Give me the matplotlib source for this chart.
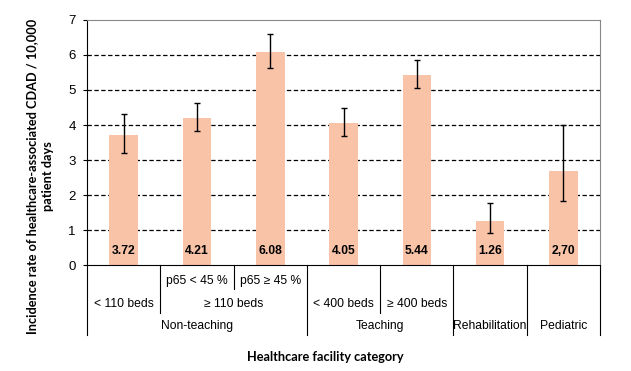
import matplotlib.pyplot as plt
import numpy as np

plt.rcParams['font.family'] = ['Liberation Sans', 'DejaVu Sans']
plt.rcParams['font.size'] = 8.7

# data
rates = [3.72, 4.21, 6.08, 4.05, 5.44, 1.26, 2.70]
rate_labels = ["3.72", "4.21", "6.08", "4.05", "5.44", "1.26", "2,70"]
ci_low = [3.19, 3.83, 5.62, 3.68, 5.05, 0.91, 1.82]
ci_high = [4.31, 4.62, 6.59, 4.48, 5.85, 1.76, 3.99]

# hierarchical category labels: (text, first idx, last idx)
level1 = [("p65 < 45 %", 1, 1), ("p65 ≥ 45 %", 2, 2)]
level2 = [("< 110 beds", 0, 0), ("≥ 110 beds", 1, 2),
          ("< 400 beds", 3, 3), ("≥ 400 beds", 4, 4)]
level3 = [("Non-teaching", 0, 2), ("Teaching", 3, 4),
          ("Rehabilitation", 5, 5), ("Pediatric", 6, 6)]

BAR_COLOR = "#F9C3A7"
TITLE_FONT = ["Lato", "DejaVu Sans"]

fig = plt.figure(figsize=(6.31, 3.71), dpi=100)
ax = fig.add_axes([0.1379, 0.2857, 0.8130, 0.6604])

x = np.arange(len(rates))
err = [np.array(rates) - np.array(ci_low), np.array(ci_high) - np.array(rates)]
ax.bar(x, rates, width=0.39, color=BAR_COLOR, zorder=2)
ax.errorbar(x, rates, yerr=err, fmt="none", ecolor="black", elinewidth=1,
            capsize=2.5, capthick=1, zorder=3)

for xi, lab in zip(x, rate_labels):
    ax.text(xi, 0.4, lab, ha="center", va="center", fontweight="bold", zorder=4)

ax.set_xlim(-0.5, 6.5)
ax.set_ylim(0, 7)
ax.set_yticks(range(8))
for y in range(1, 7):
    ax.axhline(y, color="black", linestyle=(0, (3.5, 2)), linewidth=0.9, zorder=1)

ax.set_xticks([])
ax.tick_params(axis="y", length=3, width=0.8, pad=5, color="black", labelsize=9.5)
ax.spines["left"].set_color("black")
ax.spines["bottom"].set_color("black")
ax.spines["top"].set_color("#888888")
ax.spines["right"].set_color("#888888")

# multi-level category axis
text_y = [-0.457, -1.10, -1.743]
line_y = [-0.677, -1.363, -1.986]
for row, level in enumerate([level1, level2, level3]):
    for txt, a, b in level:
        ax.text((a + b) / 2, text_y[row], txt, ha="center", va="center",
                clip_on=False)

# separator lines (boundary x, bottom y)
bounds = [(-0.5, line_y[2]), (0.5, line_y[1]), (1.5, line_y[0]),
          (2.5, line_y[2]), (3.5, line_y[1]), (4.5, line_y[2]),
          (5.5, line_y[2]), (6.5, line_y[2])]
for bx, by in bounds:
    ax.plot([bx, bx], [0, by], color="black", linewidth=0.8, clip_on=False)

fig.text(325 / 631, 1 - 356.7 / 371, "Healthcare facility category",
         ha="center", va="center", fontweight="bold", fontsize=9.2,
         family=TITLE_FONT)

fig.text(40 / 631, 1 - 176 / 371,
         "Incidence rate of healthcare-associated CDAD / 10,000\npatient days",
         rotation=90, ha="center", va="center", multialignment="center",
         fontweight="bold", fontsize=9.2, family=TITLE_FONT, linespacing=1.35)

fig.savefig("out.png", dpi=100)
